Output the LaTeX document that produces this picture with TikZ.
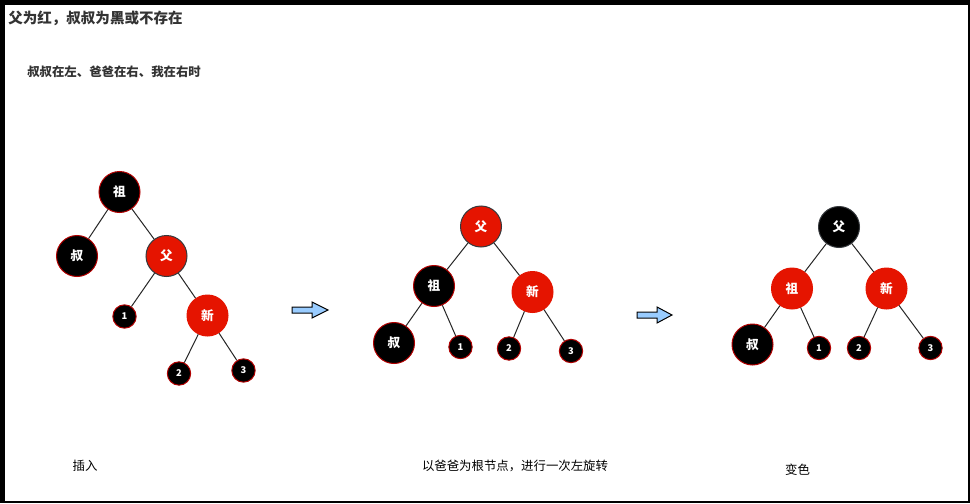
\documentclass[tikz,border=0pt]{standalone}
\usepackage{fontspec}
\setmainfont{Noto Sans CJK SC}
\definecolor{rbred}{HTML}{E51400}
\definecolor{rbedge}{HTML}{B20000}
\definecolor{rbgray}{HTML}{36393D}
\definecolor{arrowblue}{HTML}{99CCFF}
\definecolor{txtgray}{HTML}{333333}
\tikzset{
  big/.style={circle,inner sep=0pt,minimum size=30.75pt,line width=0.75pt,text=white,font=\fontsize{9.5pt}{10pt}\selectfont\bfseries},
  small/.style={circle,inner sep=0pt,minimum size=17.5pt,line width=0.75pt,text=white,fill=black,draw=rbedge,font=\fontsize{7pt}{8pt}\selectfont\bfseries},
  bnode/.style={big,fill=black,draw=rbedge},
  rnode/.style={big,fill=rbred,draw=rbred},
  rgnode/.style={big,fill=rbred,draw=rbgray},
  bgnode/.style={big,fill=black,draw=rbgray},
  edge/.style={draw=black!85,line width=0.75pt},
  blockarrow/.style={fill=arrowblue,draw=black,line width=0.75pt,line join=miter},
  lbl/.style={inner sep=0pt,anchor=west}
}
\begin{document}
\begin{tikzpicture}[x=0.75pt,y=-0.75pt]
\fill[black] (0,0) rectangle (970,503);
\fill[white] (5,5) rectangle (968,501);
\useasboundingbox (0,0) rectangle (970,503);

\node[lbl,text=txtgray,font=\fontsize{10.9pt}{12pt}\selectfont\bfseries] (title) at (8,18) {父为红，叔叔为黑或不存在};
\node[lbl,text=txtgray,font=\fontsize{9.3pt}{11pt}\selectfont\bfseries] (sub) at (27,72) {叔叔在左、爸爸在右、我在右时};

% tree 1
\node[bnode] (a1) at (119.5,192) {祖};
\node[bnode] (a2) at (77,256) {叔};
\node[rgnode] (a3) at (166.5,256) {父};
\node[small] (a4) at (124.5,316.5) {1};
\node[rnode] (a5) at (207.5,315.5) {新};
\node[small] (a6) at (179,373.5) {2};
\node[small] (a7) at (243.5,370.5) {3};
\draw[edge] (a1) -- (a2);
\draw[edge] (a1) -- (a3);
\draw[edge] (a3) -- (a4);
\draw[edge] (a3) -- (a5);
\draw[edge] (a5) -- (a6);
\draw[edge] (a5) -- (a7);

% tree 2
\node[rgnode] (b1) at (481,226.5) {父};
\node[bnode] (b2) at (434,286) {祖};
\node[rnode] (b3) at (532.5,292) {新};
\node[bnode] (b4) at (394,343) {叔};
\node[small] (b5) at (460.5,347) {1};
\node[small] (b6) at (509,348.5) {2};
\node[small] (b7) at (571,351) {3};
\draw[edge] (b1) -- (b2);
\draw[edge] (b1) -- (b3);
\draw[edge] (b2) -- (b4);
\draw[edge] (b2) -- (b5);
\draw[edge] (b3) -- (b6);
\draw[edge] (b3) -- (b7);

% tree 3
\node[bgnode] (c1) at (839,227) {父};
\node[rnode] (c2) at (792,288.5) {祖};
\node[rnode] (c3) at (886.5,288.5) {新};
\node[bnode] (c4) at (752.5,344.5) {叔};
\node[small] (c5) at (819,348) {1};
\node[small] (c6) at (859,348) {2};
\node[small] (c7) at (930.5,348) {3};
\draw[edge] (c1) -- (c2);
\draw[edge] (c1) -- (c3);
\draw[edge] (c2) -- (c4);
\draw[edge] (c2) -- (c5);
\draw[edge] (c3) -- (c6);
\draw[edge] (c3) -- (c7);

% block arrows
\draw[blockarrow] (292,307) -- (312,307) -- (312,302) -- (328,310) -- (312,318) -- (312,313) -- (292,313) -- cycle;
\draw[blockarrow] (637,312) -- (657,312) -- (657,307) -- (672,315) -- (657,323) -- (657,318) -- (637,318) -- cycle;

% captions
\node[font=\fontsize{9.3pt}{11pt}\selectfont,inner sep=0pt] (cap1) at (85,466) {插入};
\node[font=\fontsize{9.3pt}{11pt}\selectfont,inner sep=0pt] (cap2) at (515,466) {以爸爸为根节点，进行一次左旋转};
\node[font=\fontsize{9.3pt}{11pt}\selectfont,inner sep=0pt] (cap3) at (797.5,470) {变色};
\end{tikzpicture}
\end{document}
